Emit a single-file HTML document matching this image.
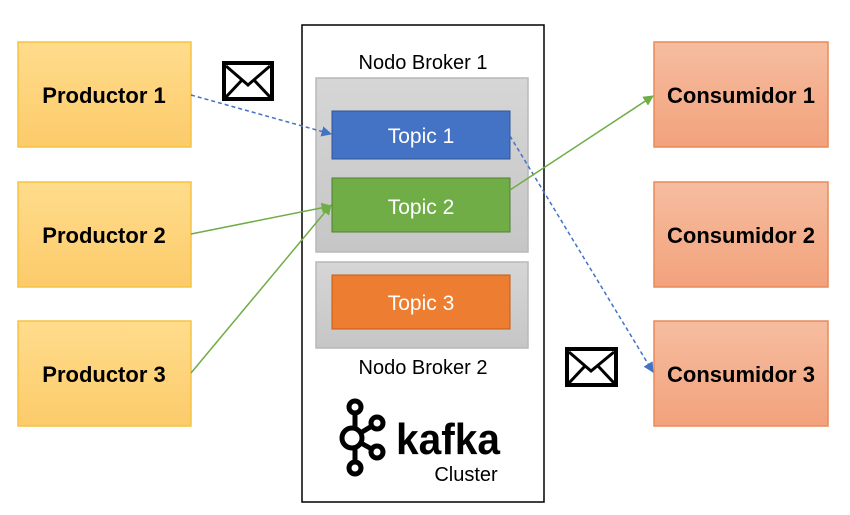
<!DOCTYPE html>
<html><head><meta charset="utf-8"><style>
html,body{margin:0;padding:0;background:#fff;}
svg{display:block;}
text{font-family:"Liberation Sans",sans-serif;}
</style></head><body>
<svg width="850" height="515" viewBox="0 0 850 515" xmlns="http://www.w3.org/2000/svg">
<defs>
<linearGradient id="gy" x1="0" y1="0" x2="0" y2="1"><stop offset="0" stop-color="#FFDC8C"/><stop offset="1" stop-color="#FCCB6A"/></linearGradient>
<linearGradient id="go" x1="0" y1="0" x2="0" y2="1"><stop offset="0" stop-color="#F6BDA0"/><stop offset="1" stop-color="#F2A27C"/></linearGradient>
<linearGradient id="gg" x1="0" y1="0" x2="0" y2="1"><stop offset="0" stop-color="#D6D6D6"/><stop offset="1" stop-color="#C6C6C6"/></linearGradient>
<marker id="ab" viewBox="0 0 10 10" refX="9" refY="5" markerWidth="7" markerHeight="7" orient="auto"><path d="M0,0 L10,5 L0,10 z" fill="#4472C4"/></marker>
<marker id="ag" viewBox="0 0 10 10" refX="9" refY="5" markerWidth="7" markerHeight="7" orient="auto"><path d="M0,0 L10,5 L0,10 z" fill="#70AD47"/></marker>
</defs>

<!-- producers -->
<g stroke="#F5C342" stroke-width="1.5" fill="url(#gy)">
<rect x="18" y="42" width="173" height="105"/>
<rect x="18" y="182" width="173" height="105"/>
<rect x="18" y="321" width="173" height="105"/>
</g>
<g font-weight="bold" font-size="22" text-anchor="middle" fill="#000">
<text x="104" y="103">Productor 1</text>
<text x="104" y="243">Productor 2</text>
<text x="104" y="382">Productor 3</text>
</g>

<!-- consumers -->
<g stroke="#E88A5A" stroke-width="1.5" fill="url(#go)">
<rect x="654" y="42" width="174" height="105"/>
<rect x="654" y="182" width="174" height="105"/>
<rect x="654" y="321" width="174" height="105"/>
</g>
<g font-weight="bold" font-size="22" text-anchor="middle" fill="#000">
<text x="741" y="103">Consumidor 1</text>
<text x="741" y="243">Consumidor 2</text>
<text x="741" y="382">Consumidor 3</text>
</g>

<!-- cluster -->
<rect x="302" y="25" width="242" height="477" fill="#fff" stroke="#000" stroke-width="1.5"/>
<text x="423" y="69" font-size="20" text-anchor="middle">Nodo Broker 1</text>
<rect x="316" y="78" width="212" height="174" fill="url(#gg)" stroke="#B8B8B8" stroke-width="1.5"/>
<rect x="332" y="111" width="178" height="48" fill="#4472C4" stroke="#2F5597" stroke-width="1"/>
<text x="421" y="143" font-size="21" text-anchor="middle" fill="#fff">Topic 1</text>
<rect x="332" y="178" width="178" height="54" fill="#70AD47" stroke="#507E32" stroke-width="1"/>
<text x="421" y="214" font-size="21" text-anchor="middle" fill="#fff">Topic 2</text>
<rect x="316" y="262" width="212" height="86" fill="url(#gg)" stroke="#B8B8B8" stroke-width="1.5"/>
<rect x="332" y="275" width="178" height="54" fill="#ED7D31" stroke="#C55A11" stroke-width="1"/>
<text x="421" y="310" font-size="21" text-anchor="middle" fill="#fff">Topic 3</text>
<text x="423" y="374" font-size="20" text-anchor="middle">Nodo Broker 2</text>

<!-- kafka logo -->
<g stroke="#000" stroke-width="5" fill="none">
<line x1="355" y1="413" x2="355" y2="462"/>
<line x1="352" y1="438" x2="377" y2="423"/>
<line x1="352" y1="438" x2="377" y2="452"/>
<circle cx="355" cy="407" r="6" fill="#fff"/>
<circle cx="352" cy="438" r="10" fill="#fff"/>
<circle cx="377" cy="423" r="6" fill="#fff"/>
<circle cx="377" cy="452" r="6" fill="#fff"/>
<circle cx="355" cy="468" r="6" fill="#fff"/>
</g>
<text x="396" y="454" font-size="44" font-weight="bold" fill="#000" textLength="104" lengthAdjust="spacingAndGlyphs">kafka</text>
<text x="466" y="481" font-size="20" text-anchor="middle">Cluster</text>

<!-- envelopes -->
<g stroke="#000" fill="#fff">
<rect x="224" y="63" width="48" height="36" stroke-width="4"/>
<polyline points="226,66 248,85 270,66" fill="none" stroke-width="3"/>
<line x1="226" y1="97" x2="242" y2="80" stroke-width="3"/>
<line x1="270" y1="97" x2="254" y2="80" stroke-width="3"/>
<rect x="567" y="349" width="49" height="36" stroke-width="4"/>
<polyline points="569,352 591,371 614,352" fill="none" stroke-width="3"/>
<line x1="569" y1="383" x2="585" y2="366" stroke-width="3"/>
<line x1="614" y1="383" x2="598" y2="366" stroke-width="3"/>
</g>

<!-- connectors -->
<line x1="191" y1="95" x2="331" y2="134" stroke="#4472C4" stroke-width="1.5" stroke-dasharray="4,3" marker-end="url(#ab)"/>
<line x1="510" y1="136" x2="653" y2="372" stroke="#4472C4" stroke-width="1.5" stroke-dasharray="4,3" marker-end="url(#ab)"/>
<line x1="191" y1="234" x2="331" y2="206" stroke="#70AD47" stroke-width="1.5" marker-end="url(#ag)"/>
<line x1="191" y1="373" x2="331" y2="205" stroke="#70AD47" stroke-width="1.5" marker-end="url(#ag)"/>
<line x1="510" y1="190" x2="653" y2="96" stroke="#70AD47" stroke-width="1.5" marker-end="url(#ag)"/>
</svg>
</body></html>
